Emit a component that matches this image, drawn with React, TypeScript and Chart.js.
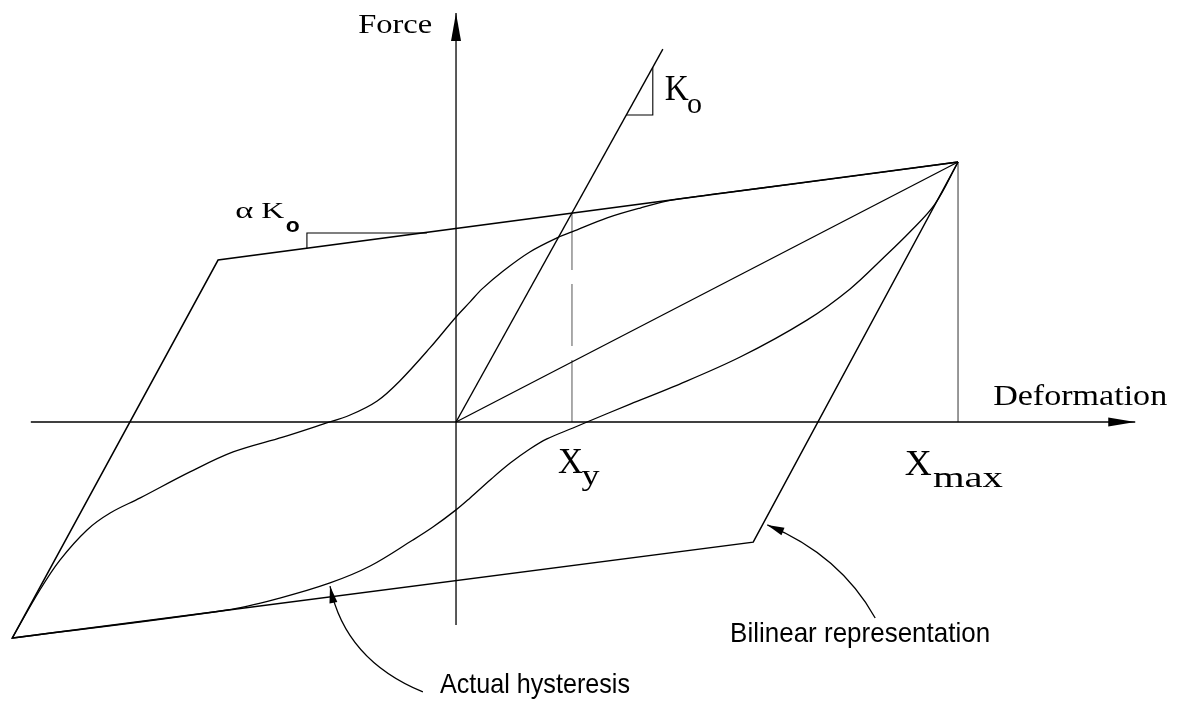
import React, { useEffect, useRef } from 'react';
import { Chart, registerables } from 'chart.js';

Chart.register(...registerables);

// Units: deformation and force normalised so that (Xmax, Fmax) = (10, 10)
const bilinearX = [10, -4.74, -8.84, 5.92, 10];
const bilinearY = [10, 6.23, -8.31, -4.62, 10];

const upperX = [-8.84, -8.29, -7.89, -7.35, -6.89, -6.29, -5.3, -4.44, -3.45, -2.65, -2.11, -1.57, -1.12, -0.52, 0, 0.28, 0.52, 0.94, 1.47, 2.01, 2.31, 3.01, 3.67, 4.32, 5.26, 6.85, 10];
const upperY = [-8.31, -6.46, -5.31, -4.15, -3.5, -2.92, -1.92, -1.15, -0.58, -0.08, 0.27, 0.81, 1.58, 2.85, 4.04, 4.62, 5.12, 5.81, 6.54, 7.08, 7.31, 7.85, 8.23, 8.54, 8.79, 9.19, 10];

const lowerX = [-8.84, -4.56, -3.51, -2.51, -1.71, -0.86, -0.46, 0, 0.28, 0.68, 1.08, 1.47, 1.81, 2.33, 2.61, 3.47, 4.32, 5.66, 6.99, 7.85, 8.51, 9.04, 9.54, 10];
const lowerY = [-8.31, -7.23, -6.77, -6.19, -5.54, -4.54, -4.04, -3.38, -2.92, -2.23, -1.58, -1.04, -0.65, -0.23, 0, 0.69, 1.35, 2.5, 3.92, 5.12, 6.31, 7.31, 8.38, 10];

const elasticX = [0, 4.12];
const elasticY = [0, 14.34];
const secantX = [0, 10];
const secantY = [0, 10];
const yieldLineX = [2.31, 2.31];
const yieldLineY = [0, 8.04];
const xmaxLineX = [10, 10];
const xmaxLineY = [0, 10];
const k0TriX = [3.92, 3.92, 3.39];
const k0TriY = [13.64, 11.81, 11.81];
const alphaTriX = [-2.97, -2.97, -0.58];
const alphaTriY = [6.68, 7.27, 7.27];

const xAxisRange = [-8.47, 13.53];
const yAxisRange = [-7.81, 15.73];

const X_MIN = -9.084;
const X_MAX = 14.641;
const Y_MIN = -10.769;
const Y_MAX = 16.231;

const pts = (xs: number[], ys: number[]) => xs.map((x, i) => ({ x, y: ys[i] }));

const SERIF = '"Liberation Serif", "Times New Roman", serif';
const NARROW = '"Liberation Sans Narrow", "Liberation Sans", Arial, sans-serif';

type Label = { text: string; x: number; y: number; font: string; w: number };
const labels: Label[] = [
  { text: 'Force', x: -1.95, y: 14.96, font: `27px ${SERIF}`, w: 74 },
  { text: 'Deformation', x: 10.7, y: 0.65, font: `30px ${SERIF}`, w: 174 },
  { text: 'X', x: 2.03, y: -1.96, font: `35px ${SERIF}`, w: 25 },
  { text: 'y', x: 2.5, y: -2.42, font: `30px ${SERIF}`, w: 18 },
  { text: 'X', x: 8.94, y: -2.04, font: `35px ${SERIF}`, w: 27 },
  { text: 'max', x: 9.5, y: -2.5, font: `30px ${SERIF}`, w: 70 },
  { text: 'K', x: 4.16, y: 12.38, font: `35px ${SERIF}`, w: 24 },
  { text: 'o', x: 4.6, y: 11.88, font: `30px ${SERIF}`, w: 15 },
  { text: 'α', x: -4.4, y: 7.85, font: `23px ${SERIF}`, w: 18 },
  { text: 'K', x: -3.88, y: 7.85, font: `23px ${SERIF}`, w: 23 },
  { text: 'o', x: -3.39, y: 7.31, font: `bold 20px ${NARROW}`, w: 14 },
  { text: 'Bilinear representation', x: 5.46, y: -8.46, font: `28px ${NARROW}`, w: 260 },
  { text: 'Actual hysteresis', x: -0.32, y: -10.42, font: `28px ${NARROW}`, w: 190 },
];

// curved pointer arrows: start, control, tip
const pointers = [
  { s: [8.35, -7.54], c: [7.65, -5.12], t: [6.2, -3.96] },
  { s: [-0.66, -10.38], c: [-2.21, -9.15], t: [-2.51, -6.31] },
];

function head(ctx: CanvasRenderingContext2D, tx: number, ty: number, fx: number, fy: number, len: number, half: number) {
  const dx = tx - fx, dy = ty - fy;
  const d = Math.hypot(dx, dy) || 1;
  const ux = dx / d, uy = dy / d;
  const bx = tx - ux * len, by = ty - uy * len;
  ctx.beginPath();
  ctx.moveTo(tx, ty);
  ctx.lineTo(bx - uy * half, by + ux * half);
  ctx.lineTo(bx + uy * half, by - ux * half);
  ctx.closePath();
  ctx.fill();
}

const annotate = {
  id: 'annotate',
  afterDatasetsDraw(chart: any) {
    const ctx: CanvasRenderingContext2D = chart.ctx;
    const xs = chart.scales.x, ys = chart.scales.y;
    const px = (v: number) => xs.getPixelForValue(v);
    const py = (v: number) => ys.getPixelForValue(v);
    ctx.save();
    ctx.fillStyle = '#000';
    ctx.strokeStyle = '#000';
    head(ctx, px(xAxisRange[1]), py(0), px(xAxisRange[0]), py(0), 27, 4.5);
    head(ctx, px(0), py(yAxisRange[1]), px(0), py(yAxisRange[0]), 28, 5);
    ctx.lineWidth = 1.3;
    for (const p of pointers) {
      const sx = px(p.s[0]), sy = py(p.s[1]);
      const cx = px(p.c[0]), cy = py(p.c[1]);
      const tx = px(p.t[0]), ty = py(p.t[1]);
      ctx.beginPath();
      ctx.moveTo(sx, sy);
      ctx.quadraticCurveTo(cx, cy, tx, ty);
      ctx.stroke();
      head(ctx, tx, ty, cx, cy, 17, 4);
    }
    ctx.textBaseline = 'alphabetic';
    ctx.textAlign = 'left';
    for (const l of labels) {
      ctx.font = l.font;
      const w = ctx.measureText(l.text).width || 1;
      ctx.save();
      ctx.translate(px(l.x), py(l.y));
      ctx.scale(l.w / w, 1);
      ctx.fillText(l.text, 0, 0);
      ctx.restore();
    }
    ctx.restore();
  },
};

export default function App() {
  const ref = useRef<HTMLCanvasElement>(null);
  useEffect(() => {
    document.body.style.margin = '0';
    const line = (data: any[], extra: any = {}) => ({
      data,
      showLine: true,
      pointRadius: 0,
      borderColor: '#000',
      borderWidth: 1.4,
      fill: false,
      tension: 0,
      ...extra,
    });
    const chart = new Chart(ref.current!, {
      type: 'scatter',
      data: {
        datasets: [
          line(pts(xAxisRange, [0, 0]), { borderWidth: 1.5 }),
          line(pts([0, 0], yAxisRange), { borderWidth: 1.3 }),
          line(pts(bilinearX, bilinearY), { borderWidth: 1.5 }),
          line(pts(upperX, upperY), { tension: 0.35, borderWidth: 1.3 }),
          line(pts(lowerX, lowerY), { tension: 0.35, borderWidth: 1.3 }),
          line(pts(elasticX, elasticY), { borderWidth: 1.4 }),
          line(pts(secantX, secantY), { borderWidth: 1.3 }),
          line(pts(yieldLineX, yieldLineY), { borderWidth: 1, borderColor: '#555', borderDash: [62, 14] }),
          line(pts(xmaxLineX, xmaxLineY), { borderWidth: 1.1, borderColor: '#444' }),
          line(pts(k0TriX, k0TriY), { borderWidth: 1.1 }),
          line(pts(alphaTriX, alphaTriY), { borderWidth: 1.1 }),
        ],
      },
      options: {
        animation: false,
        responsive: false,
        maintainAspectRatio: false,
        layout: { padding: 0 },
        events: [],
        plugins: { legend: { display: false }, tooltip: { enabled: false }, title: { display: false } },
        scales: {
          x: { type: 'linear', display: false, min: X_MIN, max: X_MAX },
          y: { type: 'linear', display: false, min: Y_MIN, max: Y_MAX },
        },
      },
      plugins: [annotate],
    });
    return () => chart.destroy();
  }, []);
  return (
    <div style={{ position: 'absolute', left: 0, top: 0, width: 1191, height: 702, background: '#fff' }}>
      <canvas ref={ref} width={1191} height={702} style={{ width: 1191, height: 702, display: 'block' }} />
    </div>
  );
}
